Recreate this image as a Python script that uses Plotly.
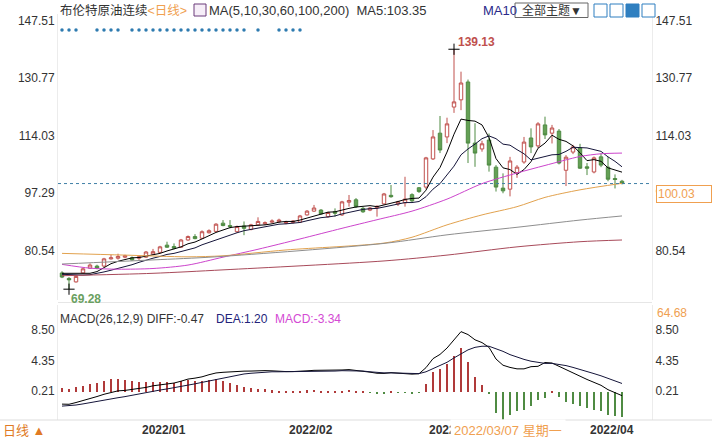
import plotly.graph_objects as go

# ---- data ----
dates = [
    "2021/12/17", "2021/12/20", "2021/12/21", "2021/12/22", "2021/12/23", "2021/12/24",
    "2021/12/27", "2021/12/28", "2021/12/29", "2021/12/30", "2021/12/31",
    "2022/01/03", "2022/01/04", "2022/01/05", "2022/01/06", "2022/01/07", "2022/01/10",
    "2022/01/11", "2022/01/12", "2022/01/13", "2022/01/14", "2022/01/17", "2022/01/18",
    "2022/01/19", "2022/01/20", "2022/01/21", "2022/01/24", "2022/01/25", "2022/01/26",
    "2022/01/27", "2022/01/28", "2022/01/31",
    "2022/02/01", "2022/02/02", "2022/02/03", "2022/02/04", "2022/02/07", "2022/02/08",
    "2022/02/09", "2022/02/10", "2022/02/11", "2022/02/14", "2022/02/15", "2022/02/16",
    "2022/02/17", "2022/02/18", "2022/02/21", "2022/02/22", "2022/02/23", "2022/02/24",
    "2022/02/25", "2022/02/28",
    "2022/03/01", "2022/03/02", "2022/03/03", "2022/03/04", "2022/03/07", "2022/03/08",
    "2022/03/09", "2022/03/10", "2022/03/11", "2022/03/14", "2022/03/15", "2022/03/16",
    "2022/03/17", "2022/03/18", "2022/03/21", "2022/03/22", "2022/03/23", "2022/03/24",
    "2022/03/25", "2022/03/28", "2022/03/29", "2022/03/30", "2022/03/31",
    "2022/04/01", "2022/04/04", "2022/04/05", "2022/04/06", "2022/04/07", "2022/04/08",
]
opens = [74.0, 72.4, 71.4, 74.0, 75.4, 76.0, 76.0, 78.1, 78.3, 78.6, 78.4,
         78.3, 78.6, 79.5, 80.0, 82.1, 81.7, 81.5, 83.6, 84.6, 84.1, 85.7, 86.1,
         88.5, 87.8, 86.0, 87.7, 86.7, 88.0, 88.3, 88.8, 88.9,
         88.5, 88.7, 88.8, 90.9, 92.0, 92.3, 90.4, 91.8, 90.9, 94.6, 95.3, 92.8,
         92.3, 93.0, 94.1, 96.6, 94.1, 94.4, 96.8, 98.8,
         99.0, 107.2, 114.7, 113.6, 122.3, 124.4, 129.6, 111.8, 110.1, 112.7, 104.8, 98.7,
         98.4, 103.2, 106.3, 113.3, 111.0, 117.1, 114.7, 115.3, 103.9, 109.2, 110.4,
         104.9, 103.4, 107.8, 104.8, 101.5, 100.7]
highs = [74.5, 72.8, 73.3, 75.5, 76.8, 76.4, 78.4, 79.3, 79.6, 79.3, 78.8,
         79.2, 80.4, 81.0, 81.9, 83.1, 82.6, 83.9, 84.9, 85.3, 86.4, 86.7, 88.5,
         89.4, 89.4, 87.8, 89.0, 88.3, 90.2, 89.0, 89.6, 89.8,
         89.2, 89.4, 90.9, 92.3, 93.8, 92.6, 91.8, 92.8, 95.0, 96.7, 95.8, 93.2,
         93.2, 93.7, 97.3, 99.6, 95.0, 102.0, 97.2, 99.0,
         107.8, 115.6, 119.7, 119.2, 139.13, 132.6, 130.3, 117.6, 112.5, 114.6, 105.4, 103.0,
         107.8, 105.4, 113.6, 116.1, 117.9, 119.5, 117.1, 115.9, 108.3, 111.3, 111.6,
         106.0, 107.9, 108.8, 107.8, 102.7, 101.1]
lows = [72.5, 69.28, 71.2, 73.8, 75.2, 75.1, 75.8, 77.9, 77.9, 78.3, 77.6,
        77.8, 78.4, 79.3, 79.8, 81.3, 80.9, 81.3, 83.4, 83.8, 83.9, 85.5, 85.9,
        87.6, 87.0, 85.7, 85.0, 86.4, 87.8, 88.0, 88.5, 88.6,
        88.2, 88.4, 88.6, 90.7, 91.8, 91.0, 90.1, 90.4, 90.6, 93.3, 92.9, 91.5,
        92.0, 90.4, 93.9, 95.9, 93.5, 93.3, 94.6, 97.3,
        98.4, 106.9, 108.9, 111.8, 120.6, 121.4, 106.0, 104.9, 109.3, 103.5, 97.7, 97.2,
        96.3, 101.7, 105.8, 108.9, 110.4, 113.0, 111.7, 105.6, 99.3, 108.6, 104.3,
        102.5, 103.0, 104.8, 100.7, 98.6, 99.8]
closes = [72.8, 72.0, 73.0, 75.2, 76.3, 75.4, 78.1, 78.4, 78.8, 79.0, 77.8,
          78.7, 80.1, 80.2, 81.6, 81.5, 81.2, 83.6, 84.6, 84.0, 86.0, 86.3, 88.2,
          87.8, 87.5, 87.5, 87.0, 88.0, 89.0, 88.6, 89.1, 89.4,
          88.7, 89.1, 90.6, 92.0, 92.9, 91.2, 91.6, 91.4, 94.7, 95.1, 93.3, 91.8,
          92.9, 93.4, 97.0, 96.2, 94.7, 95.5, 95.0, 97.7,
          107.5, 113.6, 109.8, 117.4, 123.8, 129.3, 111.8, 108.9, 111.6, 105.4, 99.0, 97.9,
          106.6, 104.8, 112.1, 110.7, 117.4, 114.2, 116.2, 106.0, 107.7, 110.7, 104.5,
          104.5, 107.5, 105.4, 101.3, 101.2, 100.03]

ma5 = [73.9, 73.9, 73.8, 73.8, 73.9, 74.4, 75.6, 76.7, 77.4, 77.9,
       78.4, 78.5, 78.9, 79.2, 79.7, 80.4, 80.9, 81.6, 82.5, 83.0,
       83.9, 84.9, 85.8, 86.5, 87.2, 87.5, 87.6, 87.6, 87.8, 88.0,
       88.3, 88.8, 89.0, 89.0, 89.4, 90.0, 90.7, 91.2, 91.7, 91.8,
       92.4, 92.8, 93.2, 93.3, 93.6, 93.3, 93.7, 94.3, 94.8, 95.4,
       95.7, 95.8, 98.1, 101.9, 104.7, 109.2, 114.4, 118.8, 118.4, 118.2,
       117.1, 113.4, 107.3, 104.6, 104.1, 102.7, 104.1, 106.4, 110.3, 111.8,
       114.1, 112.9, 112.3, 111.0, 109.0, 106.7, 107.0, 106.5, 104.6, 104.0, 103.35]
ma10 = [73.6, 73.5, 73.4, 73.4, 73.5, 73.8, 74.3, 74.8, 75.3, 75.9,
        76.4, 77.1, 77.8, 78.3, 78.8, 79.4, 79.7, 80.3, 80.8, 81.3,
        82.2, 82.9, 83.7, 84.5, 85.1, 85.7, 86.3, 86.7, 87.1, 87.6,
        87.9, 88.2, 88.3, 88.4, 88.7, 89.2, 89.7, 90.1, 90.3, 90.6,
        91.2, 91.7, 92.2, 92.5, 92.7, 92.8, 93.2, 93.7, 94.1, 94.5,
        94.5, 94.8, 96.2, 98.4, 100.0, 102.4, 105.1, 108.4, 110.1, 111.5,
        113.1, 113.9, 113.1, 111.5, 111.2, 109.9, 108.7, 106.9, 107.4, 108.0,
        108.4, 108.5, 109.4, 110.6, 110.4, 110.4, 109.9, 109.4, 107.8, 106.5, 104.9]

# slow averages, read at a handful of candles
ma30_idx = [0, 4, 8, 13, 18, 23, 28, 34, 40, 45, 50, 55, 60, 65, 69, 74, 77, 80]
ma30_val = [76.5, 75.4, 75.1, 75.3, 76.3, 78.6, 80.9, 83.9, 87.0, 89.5, 92.0, 95.5,
            100.0, 103.1, 105.3, 107.9, 108.7, 108.9]
ma60_idx = [0, 9, 18, 23, 32, 46, 50, 55, 60, 65, 69, 74, 80]
ma60_val = [79.7, 79.2, 78.7, 79.0, 80.7, 82.7, 84.4, 88.0, 90.9, 93.3, 96.0, 98.2, 100.1]
ma100_idx = [0, 13, 22, 46, 55, 65, 74, 80]
ma100_val = [76.6, 77.8, 78.7, 82.6, 85.1, 87.3, 89.4, 90.6]
ma200_idx = [0, 13, 23, 46, 55, 65, 74, 80]
ma200_val = [73.2, 73.9, 74.9, 77.5, 79.2, 81.6, 83.1, 83.6]

macd_hist = [0.55, 0.41, 0.68, 0.87, 1.14, 1.32, 1.55, 1.78, 1.87, 1.69,
             1.55, 1.46, 1.42, 1.46, 1.42, 1.37, 1.32, 1.51, 1.69, 1.55,
             1.51, 1.69, 1.78, 1.55, 1.32, 1.0, 0.78, 0.59, 0.5, 0.41,
             0.25, 0.12, 0.05, 0.05, 0.1, 0.25, 0.3, 0.2, 0.15, 0.1,
             0.2, 0.3, 0.1, 0.05, -0.1, -0.2, -0.15, 0.05, -0.05, -0.05,
             -0.15, -0.05, 1.14, 2.8, 3.15, 3.9, 4.9, 6.0, 4.2, 2.05,
             1.0, -0.3, -2.9, -3.8, -3.1, -2.6, -2.4, -1.9, -1.05, -0.8,
             0.23, -0.6, -1.3, -1.6, -1.9, -2.2, -2.4, -2.6, -3.1, -3.3, -3.34]
dea = [-1.9, -1.85, -1.75, -1.6, -1.45, -1.25, -1.05, -0.9, -0.75, -0.6,
       -0.4, -0.25, -0.05, 0.15, 0.3, 0.45, 0.6, 0.75, 0.95, 1.15,
       1.35, 1.55, 1.75, 1.95, 2.15, 2.35, 2.5, 2.6, 2.7, 2.75,
       2.8, 2.8, 2.8, 2.8, 2.8, 2.8, 2.85, 2.9, 2.9, 2.9,
       2.95, 2.95, 2.95, 2.9, 2.8, 2.7, 2.65, 2.65, 2.6, 2.6,
       2.55, 2.55, 2.8, 3.2, 3.6, 4.1, 4.7, 5.3, 5.8, 6.15,
       6.3, 6.3, 6.0, 5.6, 5.15, 4.8, 4.5, 4.25, 4.05, 3.95,
       3.95, 3.85, 3.65, 3.4, 3.15, 2.85, 2.55, 2.25, 1.9, 1.55, 1.20]
dif = [-1.63, -1.65, -1.41, -1.17, -0.88, -0.59, -0.28, -0.01, 0.19, 0.25,
       0.38, 0.48, 0.66, 0.88, 1.01, 1.14, 1.26, 1.51, 1.8, 1.93,
       2.11, 2.4, 2.64, 2.73, 2.81, 2.85, 2.89, 2.9, 2.95, 2.96,
       2.93, 2.86, 2.83, 2.83, 2.85, 2.93, 3.0, 3.0, 2.98, 2.95,
       3.05, 3.1, 3.0, 2.93, 2.75, 2.6, 2.58, 2.68, 2.58, 2.58,
       2.48, 2.53, 3.37, 4.6, 5.18, 6.05, 7.15, 8.3, 7.9, 7.18,
       6.8, 6.15, 4.55, 3.7, 3.4, 3.2, 3.2, 3.5, 3.55, 4.07,
       4.0, 3.55, 3.0, 2.6, 2.2, 1.75, 1.35, 0.95, 0.35, -0.1, -0.47]

event_idx = [0, 1, 2, 5, 6, 7, 8, 10, 11, 12, 13, 14, 15, 16, 17, 18, 19, 20,
             21, 22, 23, 24, 25, 26, 28, 31, 32, 33, 34]
price_ticks = [80.54, 97.29, 114.03, 130.77, 147.51]
macd_ticks = [0.21, 4.35, 8.50]
cross_idx = 56          # crosshair sits on this candle
side_value = "64.68"

# ---- layout in pixels ----
L, R, T, B = 58, 652, 14, 420
MAIN_BOTTOM, MACD_TOP = 300, 305
dot_level = 144.7


def fx(px):
    return (px - L) / (R - L)


def fy(py):
    return (B - py) / (B - T)


FONT = "Liberation Sans, Arial, Noto Sans CJK SC"
UP, DOWN_LINE, DOWN_FILL = "#c0504d", "#4f8b43", "#64a055"

xs = list(range(len(dates)))
fig = go.Figure()

fig.add_trace(go.Candlestick(
    x=xs, open=opens, high=highs, low=lows, close=closes,
    increasing=dict(line=dict(color=UP, width=1), fillcolor="white"),
    decreasing=dict(line=dict(color=DOWN_LINE, width=1), fillcolor=DOWN_FILL),
    whiskerwidth=0, xaxis="x", yaxis="y", showlegend=False, hoverinfo="skip"))

for yy, col in [(ma5, "#000000"), (ma10, "#15153a")]:
    fig.add_trace(go.Scatter(x=xs, y=yy, mode="lines", line=dict(color=col, width=1),
                             xaxis="x", yaxis="y3", showlegend=False, hoverinfo="skip"))
for ix, vv, col in [(ma30_idx, ma30_val, "#cc44cc"), (ma60_idx, ma60_val, "#e2a24e"),
                    (ma100_idx, ma100_val, "#8e8e8e"), (ma200_idx, ma200_val, "#a84a5a")]:
    fig.add_trace(go.Scatter(x=ix, y=vv, mode="lines",
                             line=dict(color=col, width=1, shape="spline", smoothing=0.8),
                             xaxis="x", yaxis="y3", showlegend=False, hoverinfo="skip"))

# event dots along the top
fig.add_trace(go.Scatter(x=event_idx, y=[dot_level] * len(event_idx), mode="markers",
                         marker=dict(color="#2e7bb0", size=3.5), xaxis="x", yaxis="y",
                         showlegend=False, hoverinfo="skip"))

# high / low markers
hi_i = highs.index(max(highs))
lo_i = lows.index(min(lows))
fig.add_trace(go.Scatter(x=[hi_i, lo_i], y=[highs[hi_i], lows[lo_i]], mode="markers",
                         marker=dict(symbol="cross-thin", size=8, line=dict(color="black", width=1)),
                         xaxis="x", yaxis="y", showlegend=False, hoverinfo="skip"))

# MACD panel
fig.add_trace(go.Bar(x=xs, y=macd_hist, width=0.14,
                     marker=dict(color=["#b03a3a" if v >= 0 else "#4f8b43" for v in macd_hist],
                                 line=dict(width=0)),
                     xaxis="x2", yaxis="y2", showlegend=False, hoverinfo="skip"))
fig.add_trace(go.Scatter(x=xs, y=dif, mode="lines", line=dict(color="#000000", width=1),
                         xaxis="x2", yaxis="y4", showlegend=False, hoverinfo="skip"))
fig.add_trace(go.Scatter(x=xs, y=dea, mode="lines", line=dict(color="#15153a", width=1),
                         xaxis="x2", yaxis="y4", showlegend=False, hoverinfo="skip"))

main_dom = [fy(MAIN_BOTTOM), 1]
macd_dom = [0, fy(MACD_TOP)]
p_range = [80.54 - (MAIN_BOTTOM - 250.5) / 3.435, 80.54 + (250.5 - T) / 3.435]
m_range = [0.21 - (B - 390.7) / 7.3, 0.21 + (390.7 - MACD_TOP) / 7.3]
x_range = [-(62 - L) / 7, (R - 62) / 7]

yax = dict(showgrid=False, zeroline=False, ticks="", showline=True, linecolor="#ececec",
           tickfont=dict(size=12, color="#333333", family=FONT))
p_ticktext = ["%.2f" % v for v in price_ticks]
m_ticktext = ["%.2f" % v for v in macd_ticks]

fig.update_layout(
    width=712, height=439, paper_bgcolor="white", plot_bgcolor="white",
    margin=dict(l=L, r=712 - R, t=T, b=439 - B),
    font=dict(family=FONT, size=12, color="#333333"),
    bargap=0,
    xaxis=dict(domain=[0, 1], anchor="y", range=x_range, showticklabels=False,
               showgrid=False, zeroline=False, rangeslider=dict(visible=False)),
    xaxis2=dict(domain=[0, 1], anchor="y2", range=x_range, matches="x", showticklabels=False,
                showgrid=False, zeroline=False, showline=False),
    yaxis=dict(domain=main_dom, range=p_range, tickvals=price_ticks, ticktext=p_ticktext,
               side="left", anchor="x", **yax),
    yaxis3=dict(range=p_range, tickvals=price_ticks, ticktext=p_ticktext, side="right",
                overlaying="y", anchor="x", **yax),
    yaxis2=dict(domain=macd_dom, range=m_range, tickvals=macd_ticks, ticktext=m_ticktext,
                side="left", anchor="x2", **yax),
    yaxis4=dict(range=m_range, tickvals=macd_ticks, ticktext=m_ticktext, side="right",
                overlaying="y2", anchor="x2", **yax),
)

last = closes[-1]
shapes = [
    dict(type="line", xref="paper", yref="y", x0=0, x1=1, y0=last, y1=last,
         line=dict(color="#3f7fa6", width=1, dash="3px,3px")),
    dict(type="line", xref="paper", yref="paper", x0=0, x1=1, y0=fy(302.5), y1=fy(302.5),
         line=dict(color="#e6e6e6", width=1)),
    dict(type="line", xref="paper", yref="paper", x0=fx(0), x1=fx(712), y0=fy(B), y1=fy(B),
         line=dict(color="#dddddd", width=1)),
    # toolbar
    dict(type="rect", xref="paper", yref="paper", x0=fx(515), x1=fx(588), y0=fy(17.5), y1=fy(3),
         line=dict(color="#666666", width=1), fillcolor="white"),
    dict(type="rect", xref="paper", yref="paper", x0=fx(194), x1=fx(206), y0=fy(16), y1=fy(4),
         line=dict(color="#6a3a7a", width=1), fillcolor="#f6eef8"),
]
for i, x0 in enumerate([594, 610, 626, 642]):
    fill = "#2f7fc0" if i == 2 else "white"
    shapes.append(dict(type="rect", xref="paper", yref="paper", x0=fx(x0), x1=fx(x0 + 13),
                       y0=fy(17), y1=fy(4), line=dict(color="#2f7fc0", width=1), fillcolor=fill))
fig.update_layout(shapes=shapes)


def note(text, px, py, color="#333333", size=12, xanchor="left", **kw):
    return dict(text=text, x=fx(px), y=fy(py), xref="paper", yref="paper", showarrow=False,
                xanchor=xanchor, yanchor="middle", font=dict(color=color, size=size, family=FONT), **kw)


ann = [
    note('布伦特原油连续<span style="color:#f0a050">&lt;日线&gt;</span>', 58, 10, size=12.5),
    note("MA(5,10,30,60,100,200)  MA5:%.2f" % ma5[-1], 207, 10, size=13),
    note("MA10", 481, 10, color="#2a2a8a", size=13),
    note("全部主题▼", 551.5, 10, size=12, xanchor="center"),
    note("MACD(26,12,9) DIFF:%.2f" % dif[-1], 58, 319),
    note("DEA:%.2f" % dea[-1], 214, 319, color="#23237a"),
    note("MACD:%.2f" % macd_hist[-1], 273, 319, color="#d44ad4"),
    note(side_value, 655, 313, color="#f0a050"),
    note("日线 ▲", 1, 430, color="#e07a24", size=13),
    dict(text="%.2f" % last, x=1, y=last, xref="paper", yref="y", showarrow=False,
         xanchor="left", yanchor="top", xshift=4, yshift=-1,
         font=dict(color="#f0a050", size=12, family=FONT),
         bordercolor="#f0a050", borderwidth=1, borderpad=1, bgcolor="white", width=52, align="left"),
    dict(text="<b>%.2f</b>" % highs[hi_i], x=hi_i, y=highs[hi_i], xref="x", yref="y",
         showarrow=False, xanchor="left", yanchor="bottom", xshift=2, yshift=-2,
         font=dict(color="#c0504d", size=12, family=FONT)),
    dict(text="<b>%.2f</b>" % lows[lo_i], x=lo_i, y=lows[lo_i], xref="x", yref="y",
         showarrow=False, xanchor="left", yanchor="top", xshift=0, yshift=-1,
         font=dict(color="#6aa060", size=12, family=FONT)),
]
# month labels under the MACD panel
prev = None
for i, d in enumerate(dates):
    ym = d[:7]
    if prev is not None and ym != prev:
        ann.append(dict(text="<b>%s</b>" % ym, x=i, y=fy(430), xref="x2", yref="paper",
                        showarrow=False, xanchor="left", yanchor="middle", xshift=1,
                        font=dict(color="#333333", size=12, family=FONT)))
    prev = ym
# crosshair date box (covers part of the month label, as in the source)
week = ["星期一", "星期二", "星期三", "星期四", "星期五"]
ann.append(dict(text="%s %s" % (dates[cross_idx], week[0]), x=cross_idx, y=fy(430),
                xref="x2", yref="paper", showarrow=False, xanchor="left", yanchor="middle",
                xshift=-4, borderpad=3, bgcolor="white",
                font=dict(color="#f0a050", size=13, family=FONT)))
fig.update_layout(annotations=ann)

fig.write_html("out.html", config={"displayModeBar": False},
               post_script="document.body.style.margin='0';document.body.style.overflow='hidden';")
